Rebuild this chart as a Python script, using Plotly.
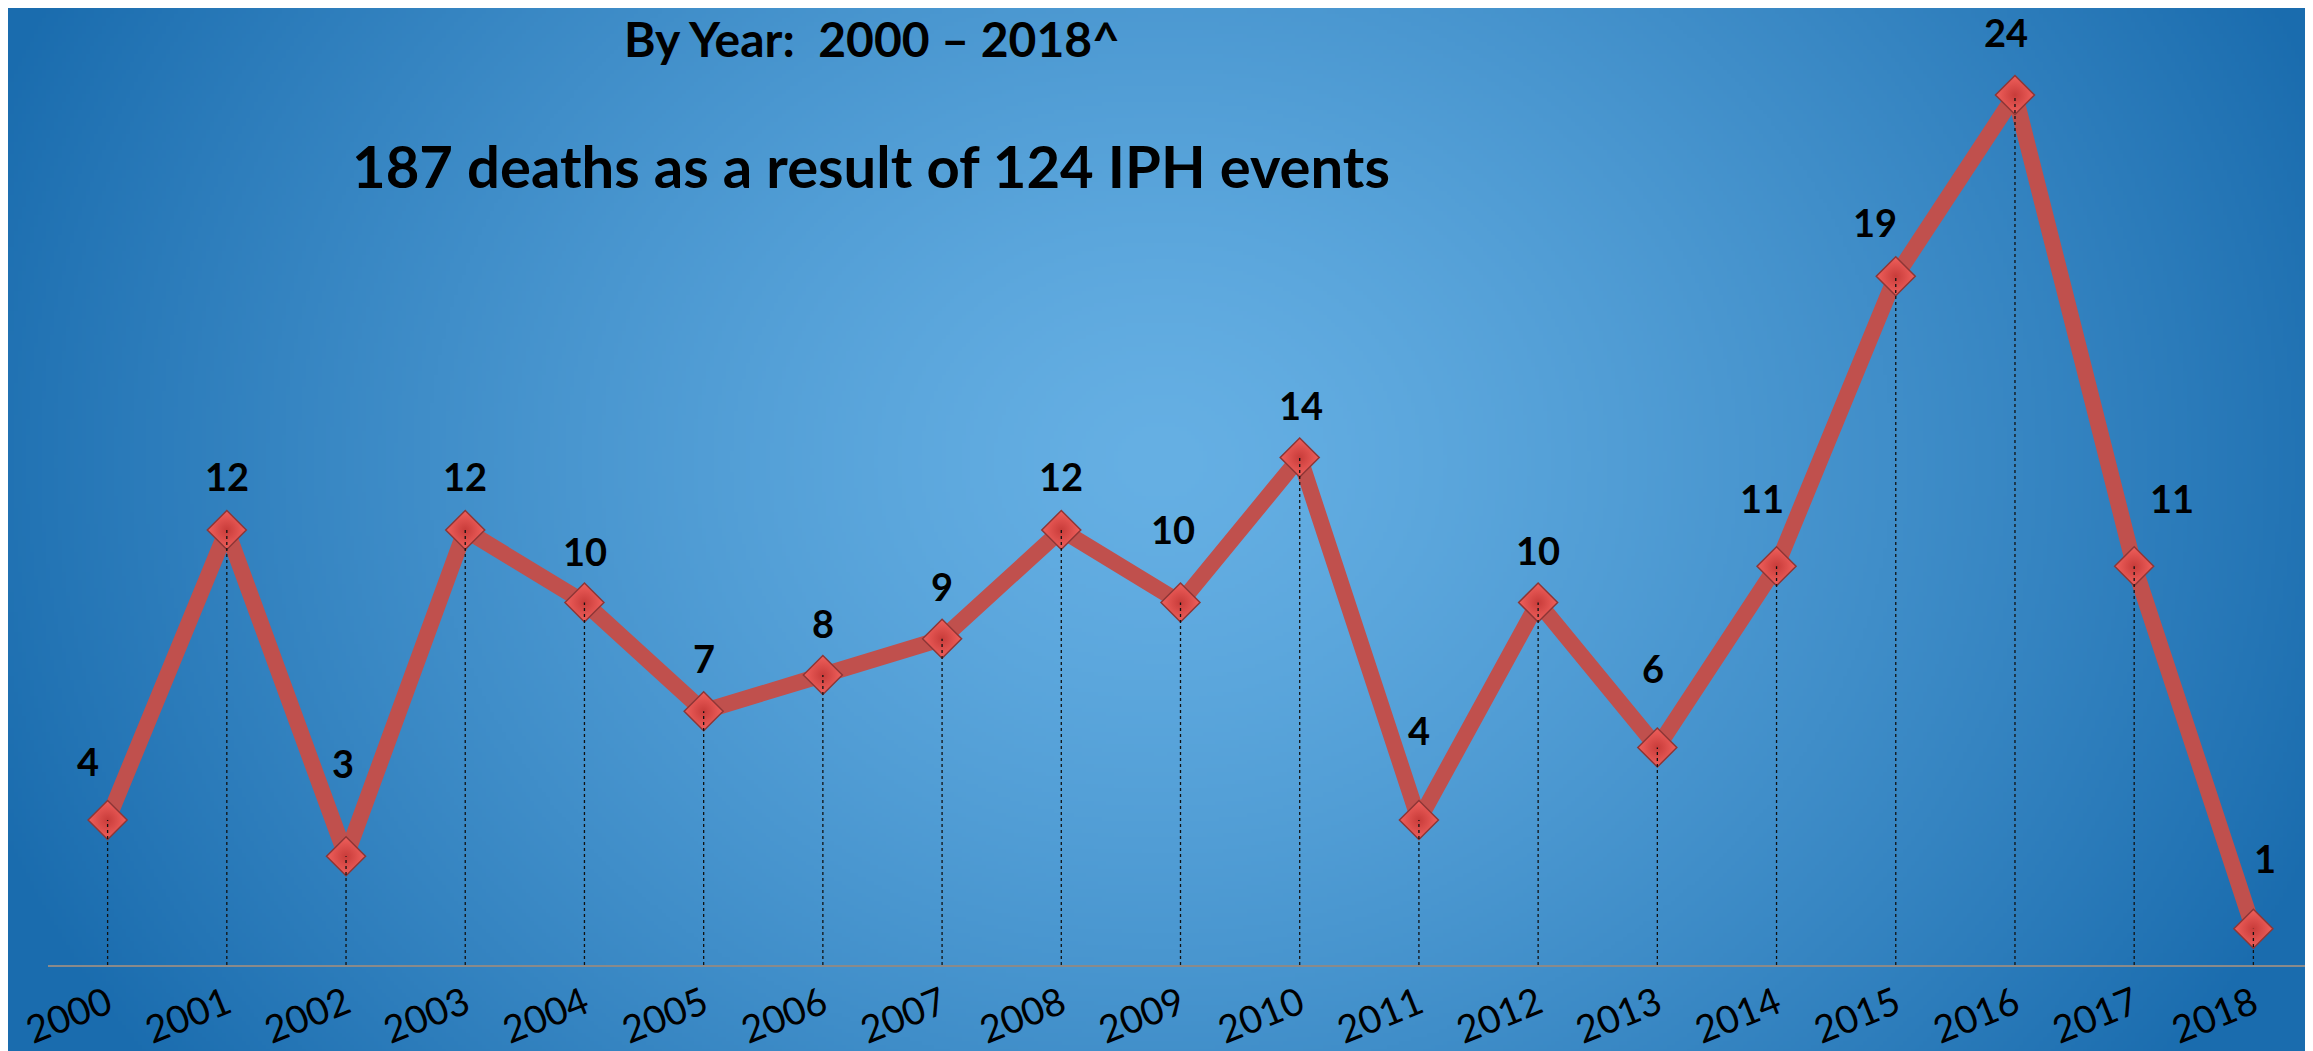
import base64, struct, zlib
import numpy as np
import plotly.graph_objects as go

# ---------------- data ----------------
years = ["2000", "2001", "2002", "2003", "2004", "2005", "2006", "2007", "2008", "2009",
         "2010", "2011", "2012", "2013", "2014", "2015", "2016", "2017", "2018"]
deaths = [4, 12, 3, 12, 10, 7, 8, 9, 12, 10, 14, 4, 10, 6, 11, 19, 24, 11, 1]
title_top = "By Year:\u00a0\u00a02000 – 2018^"
title_main = "187 deaths as a result of 124 IPH events"

# label offsets (pixels) – styling only
label_dx = [-20, 0, -3, 0, 1, 0, 0, 0, 0, -8, 1, 0, 0, -4, -15, -21, -9, 38, 12]
label_dy = [59, 54, 93, 54, 52, 53, 52, 53, 54, 74, 53, 90, 53, 80, 68, 54, 63, 68, 71]

# ---------------- figure geometry ----------------
W, H = 2313, 1051
ML, MR, MT, MB = 40, 8, 0, 94
PW, PH = W - ML - MR, H - MT - MB


def px_to_paper(X, Y):
    return (X - ML) / PW, (H - MB - Y) / PH


# ---------------- background gradient image ----------------
def make_png(arr):
    h, w, _ = arr.shape
    raw = b"".join(b"\x00" + arr[i].tobytes() for i in range(h))

    def chunk(tag, data):
        c = struct.pack(">I", len(data)) + tag + data
        return c + struct.pack(">I", zlib.crc32(tag + data) & 0xFFFFFFFF)

    return (b"\x89PNG\r\n\x1a\n"
            + chunk(b"IHDR", struct.pack(">IIBBBBB", w, h, 8, 2, 0, 0, 0))
            + chunk(b"IDAT", zlib.compress(raw, 9))
            + chunk(b"IEND", b""))


ds = 4
gw, gh = W // ds, H // ds
gx, gy = np.meshgrid(np.arange(gw) * ds, np.arange(gh) * ds)
r = np.sqrt(((gx - 1150) / 1250.0) ** 2 + ((gy - 450) / 1050.0) ** 2)
t = np.clip(r, 0, 1) ** 1.3
c0 = np.array([102, 176, 228], dtype=float)
c1 = np.array([26, 108, 174], dtype=float)
img = (c0[None, None, :] * (1 - t[..., None]) + c1[None, None, :] * t[..., None]).astype(np.uint8)
bg_uri = "data:image/png;base64," + base64.b64encode(make_png(img)).decode()

# ---------------- traces ----------------
drop_x, drop_y = [], []
for yr, v in zip(years, deaths):
    drop_x += [yr, yr, None]
    drop_y += [0, v, None]

fig = go.Figure()
fig.add_trace(go.Scatter(
    x=years, y=deaths, mode="lines+markers",
    line=dict(color="#C0504D", width=16),
    marker=dict(symbol="diamond", size=30, color="#F0605C",
                gradient=dict(type="radial", color="#C83C3A"),
                line=dict(color="#8E3636", width=1.5)),
    hoverinfo="x+y", showlegend=False,
))
fig.add_trace(go.Scatter(
    x=drop_x, y=drop_y, mode="lines",
    line=dict(color="#111111", width=1.3, dash="dot"),
    hoverinfo="skip", showlegend=False,
))

annotations = []
for i, (v, dx, dy) in enumerate(zip(deaths, label_dx, label_dy)):
    annotations.append(dict(
        x=i, y=v, xref="x", yref="y", text=str(v), showarrow=False,
        xshift=dx, yshift=dy, xanchor="center", yanchor="middle",
        font=dict(family="Lato", size=38, color="black", weight="bold"),
    ))

tx, ty = px_to_paper(864, 30)
annotations.append(dict(x=tx, y=ty, xref="paper", yref="paper", text=title_top, showarrow=False,
                        xanchor="center", yanchor="middle",
                        font=dict(family="Lato", size=48, color="black", weight="bold")))
tx, ty = px_to_paper(863, 157)
annotations.append(dict(x=tx, y=ty, xref="paper", yref="paper", text=title_main, showarrow=False,
                        xanchor="center", yanchor="middle",
                        font=dict(family="Lato", size=58, color="black", weight="bold")))

ix0, iy0 = px_to_paper(0, 0)
fig.update_layout(
    width=W, height=H,
    margin=dict(l=ML, r=MR, t=MT, b=MB, pad=0),
    paper_bgcolor="#3F8FCC", plot_bgcolor="rgba(0,0,0,0)",
    annotations=annotations,
    images=[dict(source=bg_uri, xref="paper", yref="paper", x=ix0, y=iy0,
                 sizex=W / PW, sizey=H / PH, sizing="stretch",
                 xanchor="left", yanchor="top", layer="below")],
    xaxis=dict(type="category", range=[-0.5, 18.5], showgrid=False, zeroline=False,
               showline=True, linecolor="#8A8A8A", linewidth=2,
               ticks="", ticklen=0,
               tickangle=-22, tickfont=dict(family="Lato", size=38, color="black")),
    yaxis=dict(range=[0, PH / 36.25], showgrid=False, zeroline=False,
               showline=False, showticklabels=False, ticks=""),
    hovermode="closest",
)

fig.write_html("out.html")
